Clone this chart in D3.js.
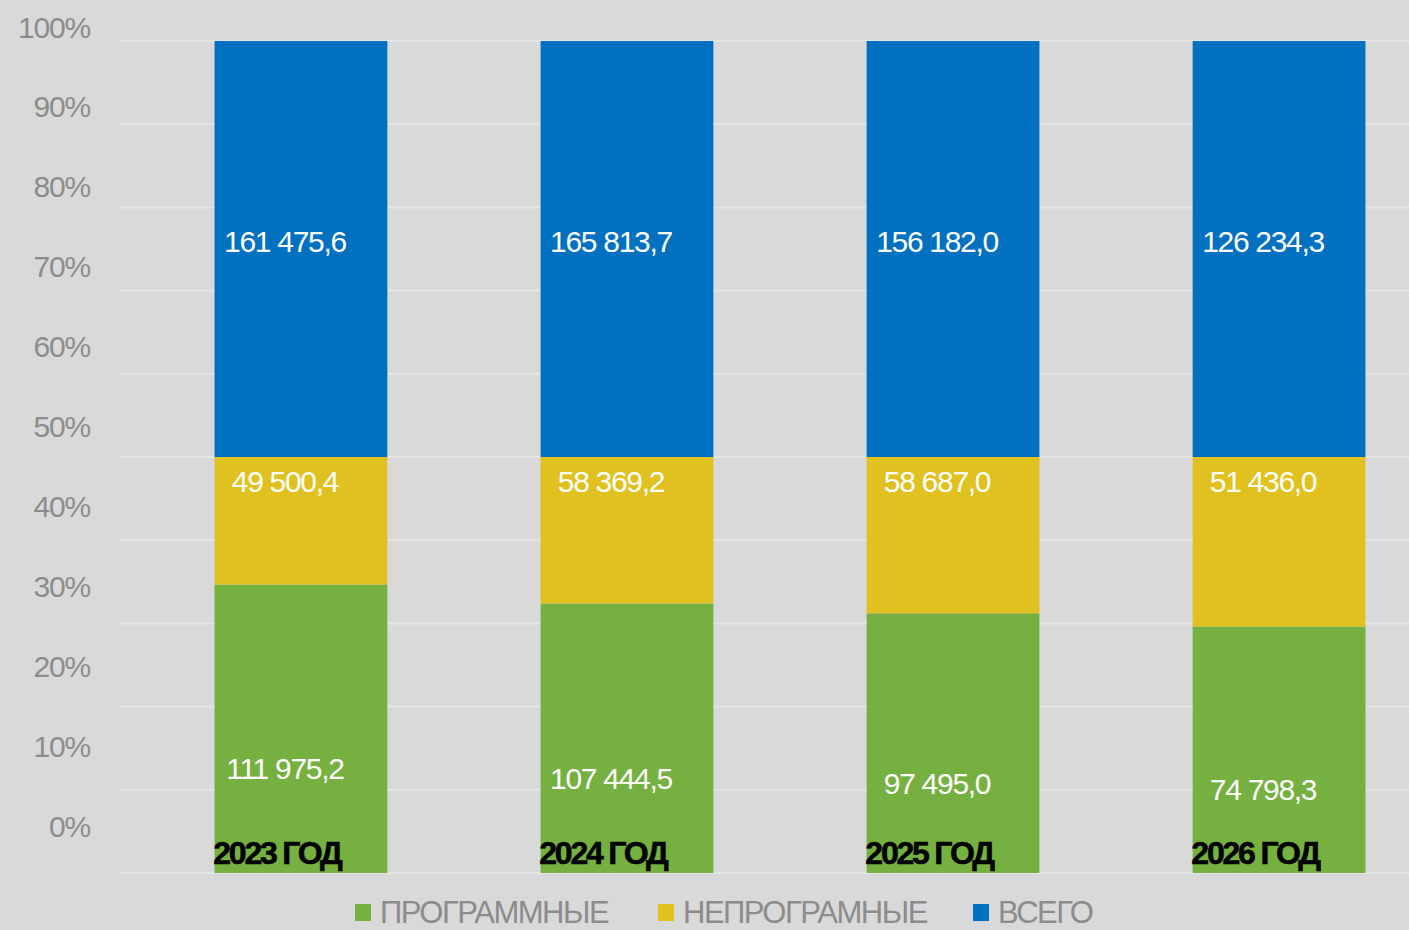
<!DOCTYPE html>
<html><head><meta charset="utf-8">
<script src="https://cdn.jsdelivr.net/npm/d3@7/dist/d3.min.js"></script>
<style>
html,body{margin:0;padding:0;background:#d9d9d9;}
svg{display:block;font-family:"Liberation Sans",Arial,sans-serif;}
</style></head>
<body><svg id="chart" width="1409" height="930"></svg>
<script>
const years = ["2023 ГОД", "2024 ГОД", "2025 ГОД", "2026 ГОД"];
const programmed = [111975.2, 107444.5, 97495.0, 74798.3];
const nonProgrammed = [49500.4, 58369.2, 58687.0, 51436.0];
const total = [161475.6, 165813.7, 156182.0, 126234.3];
const seriesKeys = ["prog", "nonprog", "total"];
const seriesNames = ["ПРОГРАММНЫЕ", "НЕПРОГРАМНЫЕ", "ВСЕГО"];
const seriesColors = ["#76b041", "#e1c11f", "#0070c0"];
const yTickValues = [0, 0.1, 0.2, 0.3, 0.4, 0.5, 0.6, 0.7, 0.8, 0.9, 1];

const W = 1409, H = 930;
const svg = d3.select("#chart");
svg.append("rect").attr("width", W).attr("height", H).attr("fill", "#d9d9d9");

const rows = years.map((y, i) => ({year: y, prog: programmed[i], nonprog: nonProgrammed[i], total: total[i]}));
const stack = d3.stack().keys(seriesKeys).offset(d3.stackOffsetExpand);
const layers = stack(rows);

const x = d3.scaleBand().domain(years).range([120, 1460]).paddingInner(0.47).paddingOuter(0.29);
const y = d3.scaleLinear().domain([0, 1]).range([873, 41]);
const yLabel = d3.scaleLinear().domain([0, 1]).range([826, 27]);

// gridlines
svg.append("g").selectAll("line").data(yTickValues).join("line")
  .attr("x1", 119).attr("x2", W)
  .attr("y1", d => y(d)).attr("y2", d => y(d))
  .attr("stroke", "#e5e5e5").attr("stroke-width", 2);

// y labels
const fmtPct = d3.format(".0%");
svg.append("g").selectAll("text").data(yTickValues).join("text")
  .attr("x", 90).attr("y", d => yLabel(d))
  .attr("text-anchor", "end").attr("dominant-baseline", "central")
  .attr("fill", "#8c8c8c").attr("font-size", 30).attr("letter-spacing", -1.2)
  .text(d => fmtPct(d));

// bars
const g = svg.append("g");
layers.forEach((layer, li) => {
  g.append("g").attr("fill", seriesColors[li]).selectAll("rect").data(layer).join("rect")
    .attr("x", d => x(d.data.year))
    .attr("width", x.bandwidth())
    .attr("y", d => y(d[1]))
    .attr("height", d => y(d[0]) - y(d[1]));
});

const loc = d3.formatLocale({decimal: ",", thousands: " ", grouping: [3], currency: ["", ""]});
const fmt = loc.format(",.1f");

function labelY(li, d) {
  const top = y(d[1]), bot = y(d[0]);
  if (li === 2) return (top + bot) / 2 - 8;
  if (li === 1) return top + 24;
  return Math.min((top + bot) / 2 + 40, 821);
}
layers.forEach((layer, li) => {
  svg.append("g").selectAll("text").data(layer).join("text")
    .attr("x", d => x(d.data.year) + x.bandwidth() / 2 - 16)
    .attr("y", d => labelY(li, d))
    .attr("text-anchor", "middle").attr("dominant-baseline", "central")
    .attr("fill", "#ffffff").attr("font-size", 30).attr("letter-spacing", -1.3)
    .text(d => fmt(d.data[seriesKeys[li]]));
});

// category labels
svg.append("g").selectAll("text").data(years).join("text")
  .attr("x", d => x(d) + x.bandwidth() / 2 - 24)
  .attr("y", 853)
  .attr("text-anchor", "middle").attr("dominant-baseline", "central")
  .attr("fill", "#000000").attr("font-size", 32).attr("font-weight", "bold").attr("letter-spacing", -2.2)
  .attr("stroke", "#000").attr("stroke-width", 0.6)
  .text(d => d);

// legend
const legendX = [355, 658, 973];
const lg = svg.append("g");
seriesNames.forEach((name, i) => {
  lg.append("rect").attr("x", legendX[i]).attr("y", 904).attr("width", 16).attr("height", 17).attr("fill", seriesColors[i]);
  lg.append("text").attr("x", legendX[i] + 25).attr("y", 912)
    .attr("dominant-baseline", "central").attr("fill", "#8c8c8c")
    .attr("font-size", 31).attr("letter-spacing", -1.5)
    .text(name);
});
</script></body></html>
